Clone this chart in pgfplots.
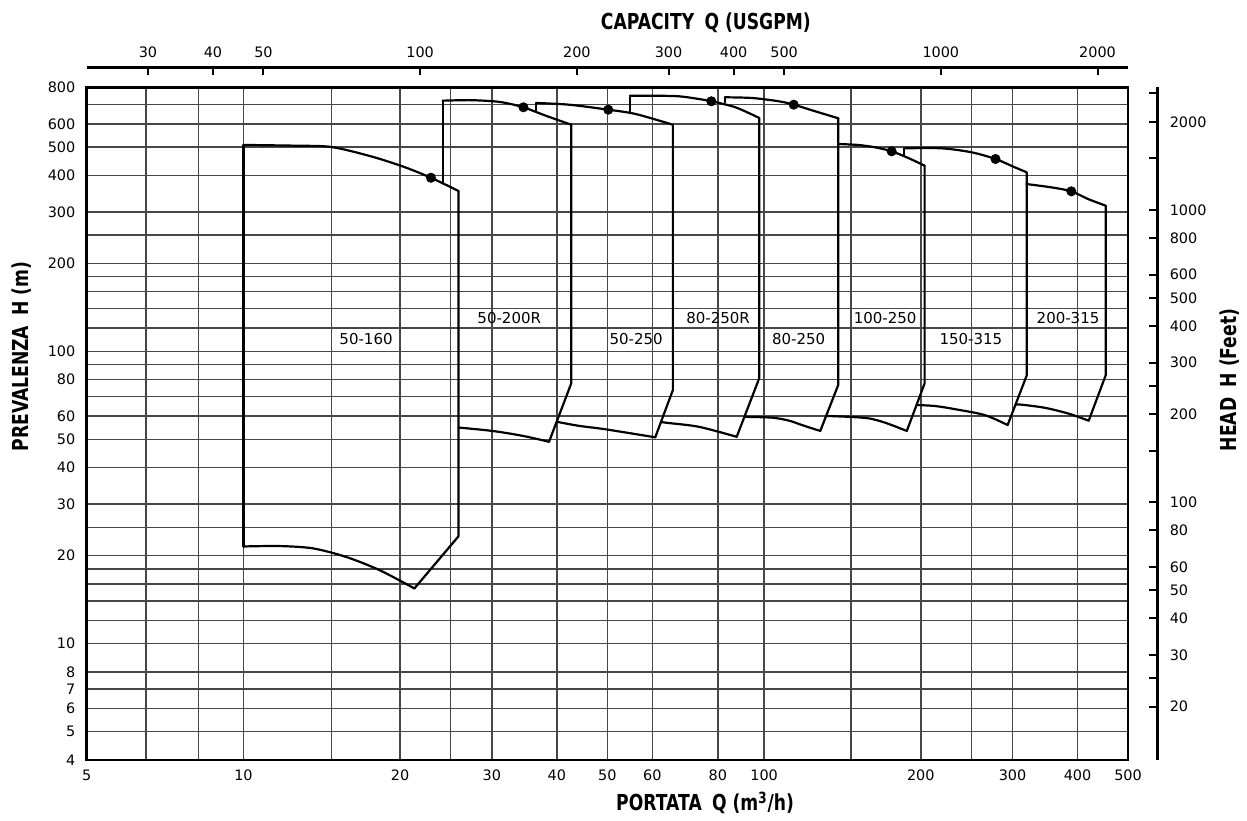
\documentclass[border=0pt]{standalone}
\usepackage{fontspec}
\setmainfont{DejaVu Sans}
\usepackage{graphicx}
\usepackage{pgfplots}
\pgfplotsset{compat=1.18}
\newcommand\tickfont{\fontsize{7.2}{8}\selectfont}
\newcommand\lblfont{\fontsize{7.5}{8}\selectfont}
\newcommand\ttl[1]{\scalebox{0.78}[1]{\fontsize{11}{13}\selectfont\bfseries #1}}
\pgfplotsset{
  env/.style={black, line width=1.1pt, line join=round, line cap=round, no marks},
  envs/.style={env, smooth},
  bep/.style={only marks, mark=*, mark size=2.3pt, black},
}
\begin{document}
\begin{tikzpicture}
\path[use as bounding box] (-43.35pt,-30pt) rectangle (580.15pt,380pt);
% main axis
\begin{axis}[
  at={(0pt,0pt)}, anchor=south west,
  scale only axis, width=520.65pt, height=336.35pt,
  xmode=log, ymode=log, xmin=5, xmax=500, ymin=4, ymax=800,
  xtick={5,10,20,30,40,50,61,81.5,100,200,300,400,500},
  xticklabels={5,10,20,30,40,50,60,80,100,200,300,400,500},
  minor xtick={6.5,8.2,14.75,25,147,250},
  ytick={4,5,6,7,8,10,20,30,40,50,60,80,100,200,300,400,500,600,800},
  yticklabels={4,5,6,7,8,10,20,30,40,50,60,80,100,200,300,400,500,600,800},
  minor ytick={12,14,16,18,25,70,90,120,140,160,180,250,700},
  grid=both,
  major grid style={black!72, line width=0.75pt},
  minor grid style={black!72, line width=0.75pt},
  major tick length=0pt, minor tick length=0pt,
  axis line style={line width=1.3pt},
  xticklabel style={font=\tickfont, yshift=-1.6pt},
  yticklabel style={font=\tickfont, xshift=-2.2pt},
  clip=false,
]
% 50-160
\addplot[env] coordinates {(10,508) (10,21.5)};
\addplot[envs] coordinates {(10,508) (12.63,505) (14.74,500) (17.46,466) (20.22,429) (22.92,392.4) (25.89,353.4)};
\addplot[env] coordinates {(25.89,353.4) (25.89,23.3) (21.3,15.45)};
\addplot[envs] coordinates {(21.3,15.45) (18.24,17.86) (15.75,19.8) (13.6,21.18) (11.74,21.57) (10,21.5)};
\addplot[bep] coordinates {(22.92,392.4)};
% 50-200R
\addplot[env] coordinates {(24.13,720) (24.13,375.5)};
\addplot[envs] coordinates {(24.13,720) (27.14,723) (30.09,717) (31.92,707) (34.5,683.4) (38.08,639.7) (42.62,595.8)};
\addplot[env] coordinates {(42.62,595.8) (42.62,77.7) (38.64,49.05)};
\addplot[envs] coordinates {(38.64,49.05) (34.35,51.4) (30.09,53.4) (25.89,54.86)};
\addplot[bep] coordinates {(34.5,683.4)};
% 50-250
\addplot[env] coordinates {(36.5,707) (36.5,663.8)};
\addplot[envs] coordinates {(36.5,707) (42.2,697.6) (50.2,670.6) (56.7,648) (66.8,595.8)};
\addplot[env] coordinates {(66.8,595.8) (66.8,73.7) (61.8,50.8)};
\addplot[envs] coordinates {(61.8,50.8) (49.6,54.1) (44.1,55.6) (40,57.4)};
\addplot[bep] coordinates {(50.2,670.6)};
% 80-250R
\addplot[env] coordinates {(55.3,748.8) (55.3,657)};
\addplot[envs] coordinates {(55.3,748.8) (61,748.8) (68.6,745.3) (74.9,729.6) (79.2,716.6) (88.1,683.4) (97.9,628.2)};
\addplot[env] coordinates {(97.9,628.2) (97.9,81) (88.6,51)};
\addplot[envs] coordinates {(88.6,51) (74.9,55.2) (64.7,57) (63.5,57.4)};
\addplot[bep] coordinates {(79.2,716.6)};
% 80-250
\addplot[env] coordinates {(84.1,739.4) (84.1,710.9)};
\addplot[envs] coordinates {(84.1,739.4) (94.8,735.4) (106.7,716.6) (114,697.6) (125.4,662.2) (138.8,626.7)};
\addplot[env] coordinates {(138.8,626.7) (138.8,76.7) (128.2,53.4)};
\addplot[envs] coordinates {(128.2,53.4) (118.2,55.95) (111.5,57.96) (103.6,59.3) (91.8,59.7)};
\addplot[bep] coordinates {(114,697.6)};
% 100-250
\addplot[envs] coordinates {(139,511.8) (151.8,507.8) (163.4,498.6) (175.8,483.2) (189.3,458.3) (203.4,431.4)};
\addplot[env] coordinates {(203.4,431.4) (203.4,77.7) (188,53.4)};
\addplot[envs] coordinates {(188,53.4) (170.8,57) (158.6,59) (145.2,59.7) (131.8,60.1)};
\addplot[bep] coordinates {(175.8,483.2)};
% 150-315
\addplot[env] coordinates {(186,494.7) (186,470.5)};
\addplot[envs] coordinates {(186,494.7) (219.3,494.7) (250.3,479.4) (278.3,454.7) (303.1,426) (319.4,409.6)};
\addplot[env] coordinates {(319.4,409.6) (319.4,82.6) (293.6,55.95)};
\addplot[envs] coordinates {(293.6,55.95) (265.5,60.5) (232.6,63.4) (212.9,65) (196.5,65.5)};
\addplot[bep] coordinates {(278.3,454.7)};
% 200-315
\addplot[envs] coordinates {(319,373.4) (356.3,363.8) (389.2,352.6) (419,331.8) (453.2,314.8)};
\addplot[env] coordinates {(453.2,314.8) (453.2,83) (420.2,57.9)};
\addplot[envs] coordinates {(420.2,57.9) (383.6,61.3) (346,64.1) (312.1,65.7) (304.2,65.7)};
\addplot[bep] coordinates {(389.2,352.6)};
% labels
\node[font=\lblfont] at (axis cs:17.2,109.9) {50-160};
\node[font=\lblfont] at (axis cs:32.4,130.2) {50-200R};
\node[font=\lblfont] at (axis cs:56.8,109.9) {50-250};
\node[font=\lblfont] at (axis cs:81.6,130.2) {80-250R};
\node[font=\lblfont] at (axis cs:116.5,109.9) {80-250};
\node[font=\lblfont] at (axis cs:170.8,129.7) {100-250};
\node[font=\lblfont] at (axis cs:249.6,109.9) {150-315};
\node[font=\lblfont] at (axis cs:383.6,129.7) {200-315};
% titles
\node[anchor=base, inner sep=0pt] at (axis description cs:0.5946,1.0862) {\ttl{CAPACITY\hspace{0.6em}Q (USGPM)}};
\node[anchor=base, inner sep=0pt] at (axis description cs:0.5938,-0.0758) {\ttl{PORTATA\hspace{0.6em}Q (m\textsuperscript{3}/h)}};
\node[anchor=base, inner sep=0pt, rotate=90] at (axis description cs:-0.0559,0.5998) {\ttl{PREVALENZA\hspace{0.6em}H (m)}};
\node[anchor=base, inner sep=0pt, rotate=90] at (axis description cs:1.1037,0.565) {\ttl{HEAD\hspace{0.6em}H (Feet)}};
\end{axis}
% top axis (USGPM)
\begin{axis}[
  at={(0pt,346.15pt)}, anchor=north west,
  scale only axis, width=520.65pt, height=5pt,
  xmode=log, xmin=22.885, xmax=2288.5, ymin=0, ymax=1,
  axis x line*=top, hide y axis,
  xtick={30,40,50,100,200,300,400,500,1000,2000},
  xticklabels={30,40,50,100,200,300,400,500,1000,2000},
  minor xtick={},
  tick align=inside, major tick length=3.6pt,
  tick style={black, line width=1pt},
  axis line style={-, line width=1.3pt},
  xticklabel style={font=\tickfont, yshift=1.4pt},
]
\end{axis}
% right axis (feet)
\begin{axis}[
  at={(14.75pt,0pt)}, anchor=south west,
  scale only axis, width=520.65pt, height=336.35pt,
  ymode=log, ymin=13.1234, ymax=2624.67, xmin=0, xmax=1,
  axis y line*=right, hide x axis,
  ytick={20,25,30,40,50,60,80,100,150,200,250,300,400,500,600,800,1000,1500,2000,2500},
  yticklabels={20,,30,40,50,60,80,100,,200,,300,400,500,600,800,1000,,2000,},
  minor ytick={},
  tick align=inside, major tick length=4.5pt,
  tick style={black, line width=1pt},
  axis line style={-, line width=1.3pt},
  yticklabel style={font=\tickfont, xshift=2.6pt},
]
\end{axis}
\end{tikzpicture}
\end{document}
